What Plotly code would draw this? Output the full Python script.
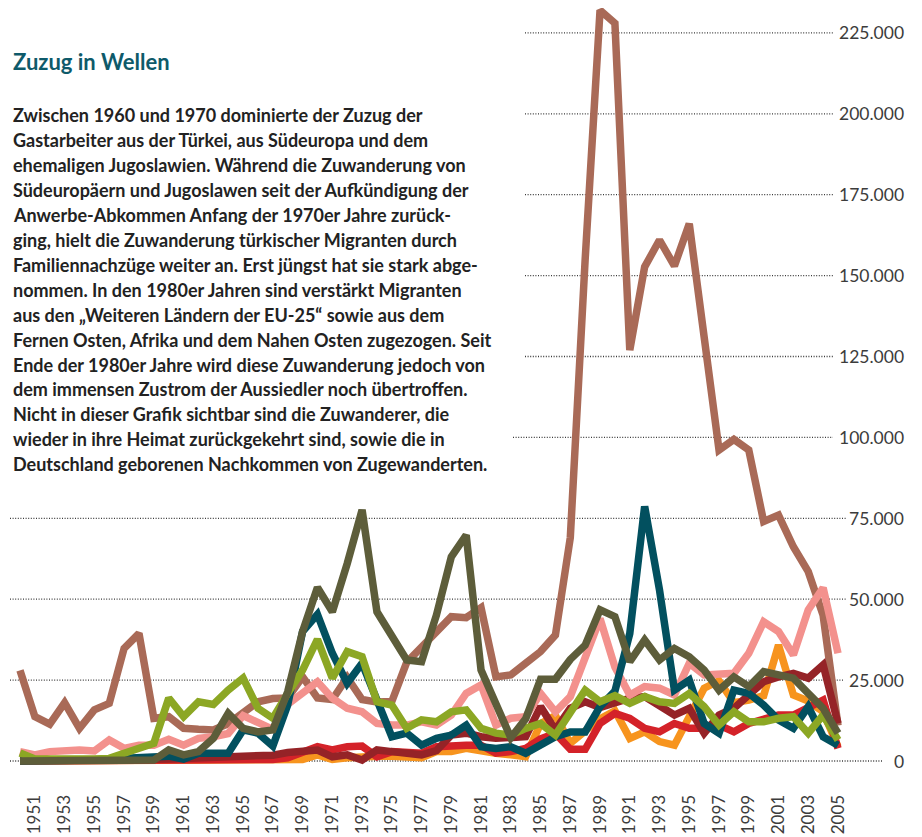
import plotly.graph_objects as go

years = list(range(1950, 2006))

# values in thousands of persons
aussiedler = [28, 13.7, 11.4, 18, 10.1, 15.8, 17.8, 34.8, 39.4, 13.2,
              13.7, 10.1, 9.8, 9.6, 11.5, 15.2, 18.3, 19.3, 19.5, 26,
              19.5, 19.0, 25.8, 19.0, 18.2, 18.4, 30.5, 35.2, 40.2, 44.6,
              44.3, 47.4, 26, 26.6, 30.2, 33.8, 38.9, 69, 155, 232,
              228, 127, 152.7, 161, 153, 166, 131, 96.1, 99.4, 96.1,
              74, 76, 66.2, 58.5, 45, 11]
weitere_eu = [2.9, 1.9, 2.9, 3.4, 3.4, 3.1, 6.5, 3.9, 4.9, 4.9,
              6.7, 4.9, 7, 7.5, 8.5, 14, 12, 9.8, 17.5, 20.8,
              24.5, 19.4, 16.3, 15.2, 11.6, 11.1, 11.1, 12.1, 11.1, 14.2,
              20.9, 23.5, 11.1, 13.2, 13.7, 20.9, 15.2, 19.9, 31.2, 44,
              29, 20.4, 23, 22.5, 20.4, 30.2, 26.6, 26.6, 27.1, 33.3,
              43, 40, 32.8, 46.7, 53.5, 33.3]
tuerkei = [0, 0, 0, 0, 0, 0, 0, 0, 0, 0.3,
           3.4, 1.9, 2.9, 7, 14.7, 10.1, 9, 9.6, 21.4, 40,
           53.6, 46.1, 61, 77.6, 46.1, 38.9, 31.2, 30.7, 45.1, 63.1,
           69.8, 28.1, 17.3, 7.2, 13, 25.3, 25.3, 31.4, 35.8, 46.7,
           44.6, 30.7, 37.4, 31.2, 34.8, 32.2, 28.1, 21.9, 26, 23,
           27.6, 26.3, 25.6, 20.9, 16.3, 8.6]
jugoslawien = [0, 0, 0, 0, 0.3, 0.3, 0.6, 0.8, 1, 1.2,
               1.5, 0.6, 2.4, 2.4, 2.4, 9.6, 8.6, 4.6, 17.3, 40,
               45.3, 33.3, 24, 30.2, 18.8, 7.5, 8.6, 4.9, 7, 8,
               11.1, 4.4, 3.9, 4.4, 2.4, 4.9, 7.5, 9, 9, 16.8,
               21.6, 39.4, 78.7, 52.8, 21.9, 25, 11.6, 8.6, 21.9, 20.9,
               17.3, 12.7, 10.1, 16.8, 7.5, 4.9]
suedeuropa = [2.5, 0.6, 0.6, 0.8, 0.6, 0.6, 0.8, 2.4, 3.9, 5.5,
              19.4, 13.7, 18.3, 17.5, 21.9, 25.6, 16.3, 13.2, 20.9, 28.1,
              37.6, 25.6, 33.8, 32.2, 18.3, 17.3, 10.1, 12.7, 12.1, 15.2,
              15.8, 10.1, 8.6, 8, 10.1, 11.6, 8, 15.2, 21.9, 18.3,
              20.2, 17.8, 19.9, 18.3, 17.8, 20.9, 16.8, 11.1, 15.2, 12.1,
              12.1, 13.2, 13.7, 8.6, 14.2, 6.5]
ferner_osten = [0.2, 0.2, 0.2, 0.2, 0.2, 0.2, 0.2, 0.2, 0.2, 0.3,
                0.6, 0.8, 1, 1, 1.3, 1.5, 1.8, 1.8, 2.6, 3,
                3.4, 1.3, 1.9, 0.3, 3.4, 2.9, 2.4, 1.9, 3.2, 8,
                8.6, 7.5, 7, 7.5, 7.5, 16.8, 9.6, 16.3, 18.3, 16.5,
                17.8, 19.4, 19.9, 17.3, 14.2, 16.3, 8.6, 14.2, 16.3, 20.4,
                24.5, 26, 27.1, 25.6, 29.7, 11.6]
afrika = [0, 0, 0, 0, 0, 0, 0, 0, 0, 0.2,
          0.2, 0.2, 0.2, 0.3, 0.3, 0.3, 0.4, 0.5, 1, 2.4,
          4.4, 3.4, 4.4, 4.6, 1.3, 2.9, 2.9, 2.4, 4.4, 4.9,
          4.9, 4.9, 2.4, 2.9, 3.9, 6.8, 8.5, 3.6, 3.6, 11.6,
          14.7, 13.2, 10.1, 9, 11.6, 10.1, 10.1, 11.1, 9, 11.6,
          12.7, 14.2, 14.2, 16.8, 18.8, 3.9]
naher_osten = [0, 0, 0, 0, 0, 0, 0, 0, 0, 0,
               0, 0, 0, 0, 0, 0, 0, 0, 0.2, 0.5,
               1.9, 0.5, 1, 1.5, 1.5, 1.5, 1, 1, 2.9, 2.9,
               3.9, 2.9, 2.4, 1.9, 1.3, 11.5, 14, 5.5, 9, 13,
               15.5, 7, 9, 6, 4.9, 13.7, 22.5, 24.8, 18, 18.8,
               20.2, 35.8, 20.4, 18.5, 15.2, 4.4]

series_names = ["Aussiedler", "Naher Osten", "Afrika", "Ferner Osten",
                "Weitere Länder der EU-25", "Ehem. Jugoslawien", "Südeuropa", "Türkei"]
series_values = [aussiedler, naher_osten, afrika, ferner_osten,
                 weitere_eu, jugoslawien, suedeuropa, tuerkei]
series_colors = ["#A96A57", "#F7941E", "#D42229", "#952327",
                 "#F3918D", "#02505F", "#8CA724", "#5D5D3A"]

ytick_vals = [0, 25000, 50000, 75000, 100000, 125000, 150000, 175000, 200000, 225000]
ytick_text = ["0", "25.000", "50.000", "75.000", "100.000", "125.000",
              "150.000", "175.000", "200.000", "225.000"]
xtick_vals = list(range(1951, 2006, 2))
xtick_text = [str(y) for y in xtick_vals]

title_text = "Zuzug in Wellen"
paragraph = [
    "Zwischen 1960 und 1970 dominierte der Zuzug der",
    "Gastarbeiter aus der Türkei, aus Südeuropa und dem",
    "ehemaligen Jugoslawien. Während die Zuwanderung von",
    "Südeuropäern und Jugoslawen seit der Aufkündigung der",
    "Anwerbe-Abkommen Anfang der 1970er Jahre zurück-",
    "ging, hielt die Zuwanderung türkischer Migranten durch",
    "Familiennachzüge weiter an. Erst jüngst hat sie stark abge-",
    "nommen. In den 1980er Jahren sind verstärkt Migranten",
    "aus den „Weiteren Ländern der EU-25“ sowie aus dem",
    "Fernen Osten, Afrika und dem Nahen Osten zugezogen. Seit",
    "Ende der 1980er Jahre wird diese Zuwanderung jedoch von",
    "dem immensen Zustrom der Aussiedler noch übertroffen.",
    "Nicht in dieser Grafik sichtbar sind die Zuwanderer, die",
    "wieder in ihre Heimat zurückgekehrt sind, sowie die in",
    "Deutschland geborenen Nachkommen von Zugewanderten.",
]

# ---- layout geometry (screen pixels; page body has an 8px margin) ----
OFF = 8
W, H = 922 - OFF, 837 - OFF
PLOT_BOTTOM = 785 - OFF
Y_ZERO_PX = 761 - OFF
PX_PER_UNIT = 80.9 / 25000
y_min = -(PLOT_BOTTOM - Y_ZERO_PX) / PX_PER_UNIT
y_max = Y_ZERO_PX / PX_PER_UNIT
PX_PER_YEAR = (838 - 20) / 55
x_min = 1950 - (20 - OFF) / PX_PER_YEAR
x_max = x_min + W / PX_PER_YEAR

def px_x(p):
    return (p - OFF) / W

def px_y(p):
    return (PLOT_BOTTOM - (p - OFF)) / PLOT_BOTTOM

fig = go.Figure()
for name, vals, col in zip(series_names, series_values, series_colors):
    fig.add_trace(go.Scatter(
        x=years, y=[v * 1000 for v in vals], mode="lines", name=name,
        line=dict(color=col, width=7.5), hoverinfo="x+y+name"))

# gridlines: start/end in screen pixels per tick
grid_x0 = {0: 10, 25000: 10, 50000: 10, 75000: 10, 100000: 513}
grid_x1 = {0: 882, 25000: 843, 50000: 846, 75000: 846}
shapes = []
for v in ytick_vals:
    x0 = grid_x0.get(v, 525)
    x1 = grid_x1.get(v, 833)
    shapes.append(dict(type="line", xref="paper", yref="y",
                       x0=px_x(x0), x1=px_x(x1), y0=v, y1=v, layer="below",
                       line=dict(color="#3a3a3a", width=1.3, dash="1px,1.6px")))

annotations = []
for v, t in zip(ytick_vals, ytick_text):
    annotations.append(dict(xref="paper", yref="y", x=px_x(906), y=v, text=t,
                            xanchor="right", yanchor="middle", showarrow=False,
                            font=dict(family="Lato", size=17.5, color="#3c3c3c")))

annotations.append(dict(xref="paper", yref="paper", x=px_x(11), y=px_y(70 - 0.387 * 22),
                        text="<b>" + title_text + "</b>", xanchor="left", yanchor="middle",
                        showarrow=False,
                        font=dict(family="Lato", size=22, color="#0E5A6A")))
for i, line in enumerate(paragraph):
    base = 122.0 + 24.95 * i
    annotations.append(dict(xref="paper", yref="paper", x=px_x(11),
                            y=px_y(base - 0.387 * 18),
                            text="<b>" + line + "</b>", xanchor="left", yanchor="middle",
                            showarrow=False,
                            font=dict(family="Lato", size=18, color="#222222")))

fig.update_layout(
    width=W, height=H,
    margin=dict(l=0, r=0, t=0, b=H - PLOT_BOTTOM, pad=0),
    paper_bgcolor="white", plot_bgcolor="white",
    showlegend=False,
    xaxis=dict(range=[x_min, x_max], tickmode="array", tickvals=xtick_vals,
               ticktext=xtick_text, tickangle=-90, showgrid=False, zeroline=False,
               showline=False, ticks="outside", ticklen=2, tickcolor="rgba(0,0,0,0)",
               tickfont=dict(family="Lato", size=17, color="#3c3c3c"), automargin=False),
    yaxis=dict(range=[y_min, y_max], showgrid=False, zeroline=False, showline=False,
               showticklabels=False, ticks=""),
    shapes=shapes, annotations=annotations,
)

fig.write_html("out.html")
